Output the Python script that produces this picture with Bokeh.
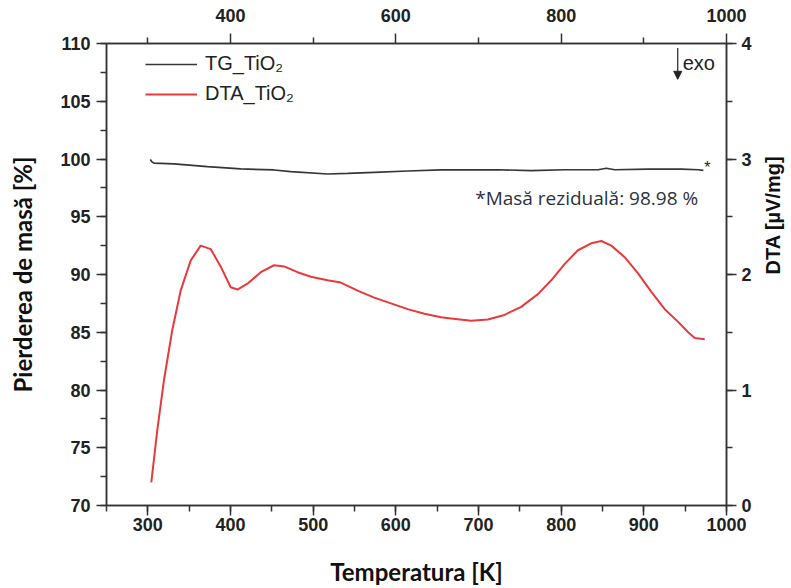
import math
from bokeh.plotting import figure
from bokeh.models import (Range1d, LinearAxis, SingleIntervalTicker, FixedTicker,
                          Label, Arrow, NormalHead, Legend, LegendItem)
from bokeh.embed import file_html
from bokeh.resources import INLINE

# ---------------- data ----------------
tg_temp = [303.0, 305.0, 307.4, 331.6, 372.0, 412.4, 452.7, 473.0, 517.4, 541.7,
           574.0, 614.4, 655.0, 683.0, 723.4, 763.7, 804.1, 844.6, 854.6, 864.7,
           905.2, 945.5, 965.7, 972.0]
tg_mass = [99.95, 99.75, 99.65, 99.57, 99.34, 99.14, 99.05, 98.90, 98.70, 98.75,
           98.84, 98.96, 99.05, 99.05, 99.07, 98.99, 99.07, 99.07, 99.20, 99.07,
           99.13, 99.13, 99.07, 99.02]

dta_temp = [304.2, 311.4, 319.4, 329.6, 339.7, 351.8, 363.9, 376.0, 388.1, 400.2,
            408.4, 420.5, 436.6, 452.7, 464.8, 481.1, 497.2, 517.4, 533.5, 553.8,
            573.9, 594.1, 614.4, 634.5, 654.7, 666.8, 691.1, 711.3, 731.4, 751.6,
            771.9, 788.0, 804.1, 820.3, 836.4, 848.6, 860.7, 876.8, 893.0, 909.1,
            925.3, 941.5, 953.6, 961.6, 973.7]
dta_val = [0.20, 0.65, 1.08, 1.52, 1.86, 2.12, 2.25, 2.22, 2.07, 1.89,
           1.87, 1.92, 2.02, 2.08, 2.07, 2.02, 1.98, 1.95, 1.93, 1.86,
           1.80, 1.75, 1.70, 1.66, 1.63, 1.62, 1.60, 1.61, 1.65, 1.72,
           1.83, 1.95, 2.09, 2.21, 2.27, 2.29, 2.25, 2.15, 2.01, 1.85,
           1.70, 1.59, 1.50, 1.45, 1.44]

top_ticks = [400, 600, 800, 1000]
top_minor = [300, 500, 700, 900]

x_label = "Temperatura [K]"
y_label = "Pierderea de masă [%]"
y2_label = "DTA [µV/mg]"
legend_labels = ["TG_TiO₂", "DTA_TiO₂"]
residual_text = "*Masă reziduală: 98.98 %"
residual_mass = 98.98

# ---------------- figure ----------------
AX = "#333333"
TICKFONT = "Liberation Sans"

p = figure(frame_width=620, frame_height=462,
           x_range=Range1d(250, 1000), y_range=Range1d(70, 110),
           output_backend="svg", toolbar_location=None,
           min_border_left=106, min_border_top=43, min_border_right=65,
           min_border_bottom=82, background_fill_color="white",
           border_fill_color="white", outline_line_color=AX, outline_line_width=1.5)
p.extra_y_ranges = {"dta": Range1d(0, 4)}
p.xgrid.visible = False
p.ygrid.visible = False

def style_axis(ax, standoff):
    ax.axis_line_color = AX
    ax.axis_line_width = 1.5
    ax.major_tick_line_color = AX
    ax.minor_tick_line_color = AX
    ax.major_tick_line_width = 1.5
    ax.minor_tick_line_width = 1.5
    ax.major_tick_in = 0
    ax.major_tick_out = 10
    ax.minor_tick_in = 0
    ax.minor_tick_out = 6
    ax.major_label_text_font = TICKFONT
    ax.major_label_text_font_style = "bold"
    ax.major_label_text_font_size = "18px"
    ax.major_label_text_color = "#222222"
    ax.major_label_standoff = standoff

xa = p.xaxis[0]
xa.ticker = SingleIntervalTicker(interval=100, num_minor_ticks=2)
style_axis(xa, 2)
xa.axis_label = x_label
xa.axis_label_text_font = "Lato"
xa.axis_label_text_font_style = "bold"
xa.axis_label_text_font_size = "24px"
xa.axis_label_text_color = "#111111"
xa.axis_label_standoff = 23

ya = p.yaxis[0]
ya.ticker = SingleIntervalTicker(interval=5, num_minor_ticks=2)
style_axis(ya, 6)
ya.axis_label = y_label
ya.axis_label_text_font = "Lato"
ya.axis_label_text_font_style = "bold"
ya.axis_label_text_font_size = "24px"
ya.axis_label_text_color = "#111111"
ya.axis_label_standoff = 20

ta = LinearAxis(ticker=FixedTicker(ticks=top_ticks, minor_ticks=top_minor))
style_axis(ta, 12)
p.add_layout(ta, "above")

ra = LinearAxis(y_range_name="dta", ticker=SingleIntervalTicker(interval=1, num_minor_ticks=2))
style_axis(ra, 5)
ra.axis_label = y2_label
ra.axis_label_text_font = TICKFONT
ra.axis_label_text_font_style = "bold"
ra.axis_label_text_font_size = "20px"
ra.axis_label_text_color = "#111111"
ra.axis_label_standoff = 18
if "axis_label_orientation" in ra.properties():
    ra.axis_label_orientation = math.pi / 2
p.add_layout(ra, "right")

# ---------------- data lines ----------------
tg = p.line(tg_temp, tg_mass, line_color="#363636", line_width=1.7)
dta = p.line(dta_temp, dta_val, y_range_name="dta", line_color="#e8393c", line_width=2)

legend = Legend(items=[LegendItem(label=legend_labels[0], renderers=[tg]),
                       LegendItem(label=legend_labels[1], renderers=[dta])],
                location=(37, 398), orientation="vertical",
                background_fill_alpha=0, border_line_alpha=0,
                label_text_font=TICKFONT, label_text_font_size="20px",
                label_text_color="#222222", glyph_width=52, glyph_height=20,
                label_height=20, spacing=7, padding=2, margin=0, label_standoff=8)
p.add_layout(legend, "center")

# ---------------- annotations ----------------
p.add_layout(Arrow(end=NormalHead(size=8, fill_color="#222222", line_color="#222222"),
                   x_start=941, y_start=109.6, x_end=941, y_end=106.9,
                   line_color="#222222", line_width=1.2))
p.add_layout(Label(x=947, y=108.35, text="exo", text_font=TICKFONT,
                   text_font_size="20px", text_color="#222222", text_baseline="middle"))
p.add_layout(Label(x=tg_temp[-1] + 1, y=residual_mass + 0.25, text="*", text_font=TICKFONT,
                   text_font_size="16px", text_color="#222222", text_baseline="middle"))
p.add_layout(Label(x=696, y=96.6, text=residual_text, text_font="Open Sans",
                   text_font_size="19px", text_color="#2b3240", text_baseline="middle"))

open("out.html", "w").write(file_html(p, INLINE))
